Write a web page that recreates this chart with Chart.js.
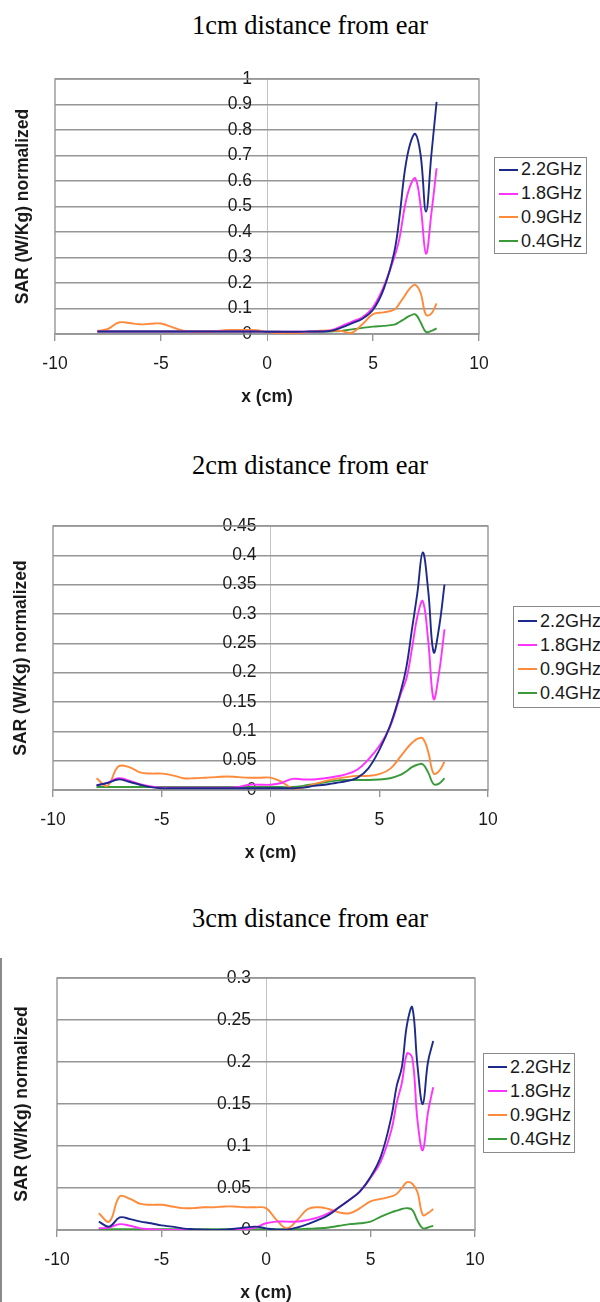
<!DOCTYPE html>
<html>
<head>
<meta charset="utf-8">
<script src="https://cdn.jsdelivr.net/npm/chart.js@4.4.1/dist/chart.umd.min.js"></script>
<style>
html, body { margin:0; padding:0; width:600px; height:1302px; overflow:hidden; background:#fff; }
.heading { position:absolute; left:0; width:620px; text-align:center; font-family:"Liberation Serif","Times New Roman",serif; font-size:26.5px; line-height:26px; color:#000; white-space:nowrap; }
.chartbox { position:absolute; left:0; width:600px; }
.legend { position:absolute; border:1.5px solid #8a8a8a; background:#fff; box-sizing:border-box; display:flex; flex-direction:column; justify-content:center; font-family:"Liberation Sans",Arial,sans-serif; font-size:18px; color:#1a1a1a; overflow:hidden; }
.legend .item { display:flex; align-items:center; height:24px; white-space:nowrap; }
.legend .swatch { display:inline-block; width:19px; height:2px; margin-left:4px; margin-right:3px; flex:none; }
.edge { position:absolute; left:0; top:958px; width:1.5px; height:344px; background:#8a8a8a; }
</style>
</head>
<body>
<div class="edge"></div>
<script>
// ---------- data ----------
const chartTitles = ['1cm distance from ear', '2cm distance from ear', '3cm distance from ear'];
const seriesNames = ['2.2GHz', '1.8GHz', '0.9GHz', '0.4GHz'];
const seriesColors = ['#1e2a8a', '#ff33ff', '#ff8a3a', '#3a9a3a'];
const xAxisTitle = 'x (cm)';
const yAxisTitle = 'SAR (W/Kg) normalized';
const xTickValues = [-10, -5, 0, 5, 10];
const xTickLabels = ['-10', '-5', '0', '5', '10'];
const yTicks1cm = [0, 0.1, 0.2, 0.3, 0.4, 0.5, 0.6, 0.7, 0.8, 0.9, 1];
const yLabels1cm = ['0', '0.1', '0.2', '0.3', '0.4', '0.5', '0.6', '0.7', '0.8', '0.9', '1'];
const yTicks2cm = [0, 0.05, 0.1, 0.15, 0.2, 0.25, 0.3, 0.35, 0.4, 0.45];
const yLabels2cm = ['0', '0.05', '0.1', '0.15', '0.2', '0.25', '0.3', '0.35', '0.4', '0.45'];
const yTicks3cm = [0, 0.05, 0.1, 0.15, 0.2, 0.25, 0.3];
const yLabels3cm = ['0', '0.05', '0.1', '0.15', '0.2', '0.25', '0.3'];

// measurement positions (cm)
const xCm = [-8, -7.5, -7, -6.5, -6, -5.5, -5, -4.5, -4, -3.5, -3, -2.5, -2, -1.5, -1, -0.5, 0, 0.5, 1, 1.5, 2, 2.5, 3, 3.5, 4, 4.5, 5, 5.5, 6, 6.25, 6.5, 6.75, 7, 7.25, 7.5, 7.75, 8];

// 1 cm distance
const sar1cm_22 = [0.01, 0.01, 0.01, 0.01, 0.01, 0.01, 0.01, 0.01, 0.01, 0.01, 0.01, 0.01, 0.01, 0.01, 0.01, 0.01, 0.009, 0.009, 0.009, 0.009, 0.01, 0.01, 0.012, 0.025, 0.042, 0.06, 0.095, 0.175, 0.32, 0.46, 0.64, 0.745, 0.785, 0.7, 0.48, 0.7, 0.91];
const sar1cm_18 = [0.01, 0.01, 0.01, 0.01, 0.01, 0.01, 0.01, 0.01, 0.01, 0.01, 0.01, 0.01, 0.01, 0.01, 0.01, 0.01, 0.009, 0.009, 0.009, 0.009, 0.01, 0.01, 0.014, 0.03, 0.048, 0.066, 0.105, 0.185, 0.3, 0.375, 0.5, 0.58, 0.61, 0.5, 0.315, 0.47, 0.65];
const sar1cm_09 = [0.012, 0.02, 0.045, 0.043, 0.038, 0.04, 0.041, 0.028, 0.014, 0.008, 0.008, 0.01, 0.015, 0.016, 0.016, 0.015, 0.008, 0.004, 0.002, 0.004, 0.008, 0.013, 0.014, 0.012, 0.005, 0.038, 0.078, 0.085, 0.095, 0.12, 0.15, 0.18, 0.193, 0.16, 0.075, 0.08, 0.12];
const sar1cm_04 = [0.01, 0.01, 0.01, 0.01, 0.01, 0.01, 0.01, 0.01, 0.01, 0.01, 0.01, 0.01, 0.01, 0.01, 0.01, 0.01, 0.009, 0.009, 0.008, 0.008, 0.008, 0.009, 0.01, 0.012, 0.018, 0.024, 0.029, 0.032, 0.037, 0.047, 0.06, 0.072, 0.077, 0.045, 0.008, 0.012, 0.022];

// 2 cm distance
const sar2cm_22 = [0.008, 0.012, 0.018, 0.014, 0.009, 0.005, 0.003, 0.003, 0.003, 0.003, 0.003, 0.003, 0.003, 0.003, 0.003, 0.003, 0.003, 0.003, 0.003, 0.004, 0.007, 0.009, 0.012, 0.015, 0.021, 0.037, 0.068, 0.11, 0.17, 0.21, 0.273, 0.335, 0.405, 0.34, 0.235, 0.277, 0.35];
const sar2cm_18 = [0.008, 0.012, 0.02, 0.016, 0.01, 0.006, 0.004, 0.004, 0.004, 0.004, 0.004, 0.004, 0.004, 0.005, 0.009, 0.009, 0.009, 0.012, 0.019, 0.018, 0.018, 0.02, 0.023, 0.027, 0.035, 0.052, 0.075, 0.108, 0.165, 0.19, 0.24, 0.295, 0.322, 0.255, 0.155, 0.2, 0.274];
const sar2cm_09 = [0.02, 0.007, 0.04, 0.039, 0.03, 0.028, 0.028, 0.025, 0.02, 0.02, 0.021, 0.022, 0.023, 0.022, 0.021, 0.021, 0.021, 0.014, 0.003, 0.004, 0.01, 0.015, 0.019, 0.022, 0.024, 0.024, 0.027, 0.036, 0.058, 0.07, 0.08, 0.087, 0.088, 0.065, 0.028, 0.032, 0.048];
const sar2cm_04 = [0.005, 0.005, 0.005, 0.005, 0.005, 0.005, 0.005, 0.005, 0.005, 0.005, 0.005, 0.005, 0.005, 0.005, 0.005, 0.005, 0.005, 0.005, 0.005, 0.007, 0.01, 0.013, 0.016, 0.017, 0.017, 0.017, 0.018, 0.02, 0.026, 0.032, 0.039, 0.043, 0.044, 0.03, 0.01, 0.011, 0.02];

// 3 cm distance
const sar3cm_22 = [0.01, 0.004, 0.015, 0.013, 0.01, 0.008, 0.0055, 0.004, 0.002, 0.001, 0.0005, 0, 0.0005, 0.0015, 0.003, 0.004, 0.002, 0.0005, 0.0005, 0.003, 0.007, 0.012, 0.018, 0.027, 0.036, 0.046, 0.063, 0.088, 0.135, 0.171, 0.194, 0.245, 0.265, 0.195, 0.15, 0.2, 0.225];
const sar3cm_18 = [0.002, 0.003, 0.007, 0.005, 0.002, 0.001, 0, 0, 0, 0, 0, 0, 0, 0, 0.001, 0.003, 0.008, 0.01, 0.01, 0.01, 0.012, 0.015, 0.02, 0.027, 0.036, 0.046, 0.062, 0.082, 0.119, 0.151, 0.175, 0.21, 0.205, 0.13, 0.095, 0.14, 0.17];
const sar3cm_09 = [0.02, 0.01, 0.04, 0.037, 0.031, 0.03, 0.03, 0.028, 0.026, 0.026, 0.027, 0.027, 0.028, 0.028, 0.027, 0.027, 0.026, 0.012, 0.002, 0.012, 0.025, 0.027, 0.025, 0.021, 0.02, 0.026, 0.034, 0.037, 0.04, 0.043, 0.05, 0.057, 0.055, 0.045, 0.018, 0.02, 0.025];
const sar3cm_04 = [0.001, 0.001, 0.001, 0.001, 0.001, 0.001, 0.001, 0.001, 0.001, 0.001, 0.001, 0.001, 0.001, 0.001, 0.001, 0.001, 0.001, 0.001, 0.001, 0.001, 0.0015, 0.002, 0.003, 0.005, 0.007, 0.008, 0.01, 0.016, 0.021, 0.023, 0.025, 0.026, 0.024, 0.011, 0.002, 0.003, 0.005];

// ---------- layout (page pixels) ----------
const layouts = [
  { headingTop: 12, chartTop: 79, chartBottom: 334, left: 55, right: 479, yTitleX: 23, labelGap: 15,
    legend: { left: 494, top: 157, width: 93, height: 97 } },
  { headingTop: 452, chartTop: 526, chartBottom: 790, left: 53, right: 488, yTitleX: 21, labelGap: 14,
    legend: { left: 513, top: 606, width: 95, height: 102 } },
  { headingTop: 905, chartTop: 978, chartBottom: 1230, left: 57, right: 475, yTitleX: 22, labelGap: 15,
    legend: { left: 483, top: 1053, width: 92, height: 100 } }
];

Chart.defaults.font.family = '"Liberation Sans", Arial, sans-serif';
Chart.defaults.font.size = 17.5;
Chart.defaults.color = '#1a1a1a';

const gridGray = '#969696';
const framePlugin = {
  id: 'plotFrame',
  beforeDatasetsDraw(chart) {
    const { ctx, chartArea: a } = chart;
    ctx.save();
    ctx.strokeStyle = gridGray;
    ctx.lineWidth = 1.4;
    ctx.strokeRect(a.left, a.top, a.right - a.left, a.bottom - a.top);
    ctx.restore();
  }
};

function makeHeading(idx) {
  const d = document.createElement('div');
  d.className = 'heading';
  d.style.top = layouts[idx].headingTop + 'px';
  d.textContent = chartTitles[idx];
  document.body.appendChild(d);
}

function makeLegend(idx) {
  const L = layouts[idx].legend;
  const d = document.createElement('div');
  d.className = 'legend';
  Object.assign(d.style, { left: L.left + 'px', top: L.top + 'px', width: L.width + 'px', height: L.height + 'px' });
  seriesNames.forEach((n, i) => {
    const it = document.createElement('div');
    it.className = 'item';
    const sw = document.createElement('span');
    sw.className = 'swatch';
    sw.style.background = seriesColors[i];
    const tx = document.createElement('span');
    tx.textContent = n;
    it.appendChild(sw);
    it.appendChild(tx);
    d.appendChild(it);
  });
  document.body.appendChild(d);
}

function makeChart(idx, series, yTicks, yLabels) {
  const L = layouts[idx];
  const padTop = 30;
  const canvasTop = L.chartTop - padTop;
  const canvasH = L.chartBottom - canvasTop + 80;
  const box = document.createElement('div');
  box.className = 'chartbox';
  box.style.top = canvasTop + 'px';
  box.style.height = canvasH + 'px';
  const cv = document.createElement('canvas');
  cv.width = 600; cv.height = canvasH;
  box.appendChild(cv);
  document.body.appendChild(box);

  const titlePadTop = L.yTitleX - 10.5;
  const titlePadBottom = L.left - 21 - titlePadTop;
  const pxPerCm = (L.right - L.left) / 20;
  const labelAnchor = -L.labelGap / pxPerCm;   // y labels sit just left of x = 0

  new Chart(cv, {
    type: 'line',
    data: {
      datasets: series.map((vals, i) => ({
        label: seriesNames[i],
        data: xCm.map((x, j) => ({ x: x, y: vals[j] })),
        borderColor: seriesColors[i],
        backgroundColor: seriesColors[i],
        borderWidth: 1.9,
        pointRadius: 0,
        pointHoverRadius: 0,
        tension: 0.4,
        fill: false,
        xAxisID: 'x',
        yAxisID: 'y'
      }))
    },
    options: {
      responsive: false,
      animation: false,
      devicePixelRatio: 1,
      events: [],
      layout: { padding: { top: padTop, left: 0, right: 600 - L.right, bottom: canvasH - (L.chartBottom - canvasTop) - 74 } },
      plugins: { legend: { display: false }, tooltip: { enabled: false }, title: { display: false } },
      scales: {
        x: {
          type: 'linear', position: 'bottom', min: -10, max: 10,
          afterBuildTicks: s => { s.ticks = xTickValues.map(v => ({ value: v })); },
          ticks: { callback: (v, i) => xTickLabels[i], padding: 12.5, maxRotation: 0, autoSkip: false },
          grid: {
            display: true, drawOnChartArea: true, drawTicks: true, tickLength: 7,
            color: c => (c.tick && c.tick.value === 0) ? '#c2c2c2' : 'rgba(0,0,0,0)',
            tickColor: gridGray,
            lineWidth: c => (c.tick && c.tick.value === 0) ? 1 : 1.4
          },
          border: { display: true, color: gridGray, width: 1.4 },
          title: { display: true, text: xAxisTitle, font: { weight: 'bold' }, padding: { top: 0, bottom: 0 } }
        },
        y: {
          type: 'linear', position: { x: labelAnchor }, min: 0, max: yTicks[yTicks.length - 1],
          afterBuildTicks: s => { s.ticks = yTicks.map(v => ({ value: v })); },
          ticks: { callback: (v, i) => yLabels[i], autoSkip: false },
          grid: { color: gridGray, lineWidth: 1.4, drawTicks: false },
          border: { display: false }
        },
        yTitle: {
          axis: 'y', type: 'linear', position: 'left', min: 0, max: 1, display: true,
          ticks: { display: false }, grid: { display: false, drawTicks: false, tickLength: 0 }, border: { display: false },
          title: { display: true, text: yAxisTitle, font: { weight: 'bold' }, padding: { top: titlePadTop, bottom: titlePadBottom } }
        }
      }
    },
    plugins: [framePlugin]
  });
}

const allSeries = [
  [sar1cm_22, sar1cm_18, sar1cm_09, sar1cm_04],
  [sar2cm_22, sar2cm_18, sar2cm_09, sar2cm_04],
  [sar3cm_22, sar3cm_18, sar3cm_09, sar3cm_04]
];
const allYTicks = [yTicks1cm, yTicks2cm, yTicks3cm];
const allYLabels = [yLabels1cm, yLabels2cm, yLabels3cm];

for (let k = 0; k < 3; k++) {
  makeHeading(k);
  makeChart(k, allSeries[k], allYTicks[k], allYLabels[k]);
  makeLegend(k);
}
</script>
</body>
</html>
